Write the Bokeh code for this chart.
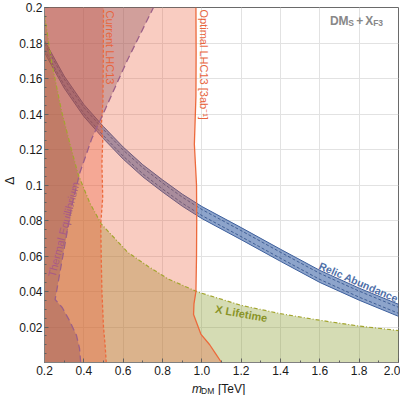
import math
from bokeh.plotting import figure
from bokeh.models import Label, FixedTicker, Range1d, ColumnDataSource
from bokeh.layouts import column, row
from bokeh.core.properties import value
from bokeh.embed import file_html
from bokeh.resources import INLINE

# ---------------- data ----------------
x_ticks = [0.2, 0.4, 0.6, 0.8, 1.0, 1.2, 1.4, 1.6, 1.8, 2.0]
x_tick_labels = ["0.2", "0.4", "0.6", "0.8", "1.0", "1.2", "1.4", "1.6", "1.8", "2.0"]
y_ticks = [0.02, 0.04, 0.06, 0.08, 0.1, 0.12, 0.14, 0.16, 0.18, 0.2]
y_tick_labels = ["0.02", "0.04", "0.06", "0.08", "0.1", "0.12", "0.14", "0.16", "0.18", "0.2"]

# relic abundance band (centre line) and half width
relic_m = [0.2, 0.3, 0.4, 0.5, 0.6, 0.7, 0.8, 0.9, 1.0, 1.2, 1.4, 1.6, 1.8, 2.0]
relic_delta = [0.178, 0.158, 0.142, 0.1295, 0.118, 0.108, 0.0995, 0.0915, 0.0845,
               0.0726, 0.0604, 0.0485, 0.0385, 0.0294]
relic_halfwidth = 0.0034

# X lifetime boundary (excluded below)
xlife_m = [0.2, 0.235, 0.286, 0.337, 0.371, 0.43, 0.489, 0.624, 0.729, 0.83, 0.98,
           1.2, 1.4, 1.6, 1.8, 2.0]
xlife_delta = [0.196, 0.170, 0.142, 0.120, 0.106, 0.090, 0.078, 0.062, 0.054, 0.047,
               0.0397, 0.0322, 0.0275, 0.0238, 0.0205, 0.018]

# current LHC13 boundary (excluded to the left)
cur_delta = [0.0, 0.01, 0.02, 0.04, 0.056, 0.078, 0.093, 0.112, 0.125, 0.135, 0.147, 0.17, 0.2]
cur_m = [0.514, 0.508, 0.500, 0.492, 0.489, 0.486, 0.496, 0.492, 0.496, 0.490, 0.497, 0.499, 0.500]

# optimal LHC13 [3ab^-1] boundary (excluded to the left)
opt_delta = [0.0, 0.005, 0.01, 0.016, 0.022, 0.027, 0.033, 0.04, 0.06, 0.08, 0.10, 0.123, 0.15, 0.175, 0.2]
opt_m = [1.10, 1.07, 1.04, 0.995, 0.975, 0.958, 0.960, 0.970, 0.973, 0.974, 0.973, 0.962, 0.970, 0.971, 0.970]

# thermal equilibrium boundary (excluded to the left)
thermal_m = [0.384, 0.378, 0.362, 0.325, 0.29, 0.254, 0.29, 0.34, 0.38, 0.44, 0.51, 0.62, 0.754]
thermal_delta = [0.0, 0.008, 0.0155, 0.024, 0.031, 0.0355, 0.058, 0.089, 0.107, 0.126, 0.143, 0.170, 0.2]

# ---------------- layout (page pixels) ----------------
STRIP_W = 16          # left strip holding the y axis label
W_TOTAL = 400
H_MAIN = 379
H_LAB = 16
FL, FR, FT, FB = 42, 398, 7, 362   # frame edges in page pixels
XMIN, XMAX, YMIN, YMAX = 0.2, 2.0, 0.0, 0.2
W_MAIN = W_TOTAL - STRIP_W


def mx(page_x):
    return XMIN + (page_x - FL) / (FR - FL) * (XMAX - XMIN)


def dy(page_y):
    return YMIN + (FB - page_y) / (FB - FT) * (YMAX - YMIN)


FONT = "Liberation Sans"

p = figure(width=W_MAIN, height=H_MAIN, x_range=Range1d(XMIN, XMAX),
           y_range=Range1d(YMIN, YMAX), output_backend="svg", toolbar_location=None,
           min_border_left=FL - STRIP_W, min_border_right=W_TOTAL - FR,
           min_border_top=FT, min_border_bottom=H_MAIN - FB)
p.background_fill_color = "white"
p.border_fill_color = "white"
p.outline_line_color = "#6a6a6a"
p.outline_line_width = 1

for ax in (p.xaxis[0], p.yaxis[0]):
    ax.axis_line_color = "#808080"
    ax.major_tick_in = 4
    ax.major_tick_out = 0
    ax.minor_tick_in = 2
    ax.minor_tick_out = 0
    ax.major_tick_line_color = "#606060"
    ax.minor_tick_line_color = "#606060"
    ax.major_label_text_font = FONT
    ax.major_label_text_font_size = "12px"
    ax.major_label_text_color = "#1a1a1a"

p.xaxis.ticker = FixedTicker(ticks=x_ticks,
                             minor_ticks=[0.3, 0.5, 0.7, 0.9, 1.1, 1.3, 1.5, 1.7, 1.9])
p.xaxis.major_label_overrides = dict(zip(x_ticks, x_tick_labels))
p.xaxis.major_label_standoff = 3
ymin_ticks = [round(0.005 * i, 3) for i in range(1, 40) if i % 4 != 0]
p.yaxis.ticker = FixedTicker(ticks=y_ticks, minor_ticks=ymin_ticks)
p.yaxis.major_label_overrides = dict(zip(y_ticks, y_tick_labels))
p.yaxis.major_label_standoff = 2

p.xgrid.ticker = FixedTicker(ticks=x_ticks)
p.ygrid.ticker = FixedTicker(ticks=y_ticks)
p.xgrid.grid_line_color = "#e2e2e2"
p.ygrid.grid_line_color = "#e2e2e2"

# relic band (drawn first, the regions are laid over it)
relic_lo = [d - relic_halfwidth for d in relic_delta]
relic_hi = [d + relic_halfwidth for d in relic_delta]
relic_in_lo = [d - 0.5 * relic_halfwidth for d in relic_delta]
relic_in_hi = [d + 0.5 * relic_halfwidth for d in relic_delta]
p.varea(x=relic_m, y1=relic_lo, y2=relic_hi, fill_color="#2f5aa0", fill_alpha=0.55)
p.line(relic_m, relic_lo, line_color="#3d5f9c", line_width=1)
p.line(relic_m, relic_hi, line_color="#3d5f9c", line_width=1)
p.line(relic_m, relic_in_lo, line_color="#2c4c88", line_width=0.8, line_dash="3 2")
p.line(relic_m, relic_in_hi, line_color="#2c4c88", line_width=0.8, line_dash="3 2")

# X lifetime region
p.patch(xlife_m + [XMAX, XMIN], xlife_delta + [YMIN, YMIN],
        fill_color="#879b29", fill_alpha=0.35, line_color=None)
# optimal LHC region
p.patch([XMIN] + opt_m + [XMIN], [YMIN] + opt_delta + [YMAX],
        fill_color="#eb5532", fill_alpha=0.3, line_color=None)
# current LHC region
p.patch([XMIN] + cur_m + [XMIN], [YMIN] + cur_delta + [YMAX],
        fill_color="#eb5532", fill_alpha=0.3, line_color=None)
# thermal equilibrium region
p.patch([XMIN] + thermal_m + [XMIN], [YMIN] + thermal_delta + [YMAX],
        fill_color="#874b55", fill_alpha=0.35, line_color=None)

# boundaries
p.line(xlife_m, xlife_delta, line_color="#a3a52e", line_width=1.2, line_dash="4 2 1 2")
p.line(opt_m, opt_delta, line_color="#ec6a3c", line_width=1.3)
p.line(cur_m, cur_delta, line_color="#ec6a3c", line_width=1.3, line_dash="3 2")
p.line(thermal_m, thermal_delta, line_color="#9c6088", line_width=1.3, line_dash="7 4")


def lab(text, px, py, size="11px", color="#000", angle=0.0, align="left",
        baseline="alphabetic", style="normal"):
    p.add_layout(Label(x=mx(px), y=dy(py), text=text, text_font=FONT,
                       text_font_size=size, text_color=color, angle=angle,
                       text_align=align, text_baseline=baseline,
                       text_font_style=style))


# region labels
lab("Current LHC13", 107.5, 10, size="11px", color="#e8643c", angle=-math.pi / 2,
    baseline="middle")
lab("Optimal LHC13 [3ab\u207b\u00b9]", 202.5, 9, size="11px", color="#e8643c",
    angle=-math.pi / 2, baseline="middle")
lab("Thermal Equilibrium", 61, 229, size="11px", color="#a95b85", angle=1.32,
    align="center", baseline="middle")
lab("X Lifetime", 240, 313, size="11px", color="#8a9428", angle=-0.18,
    align="center", baseline="middle", style="bold")
lab("Relic Abundance", 358, 281.5, size="10.5px", color="#4f6fa8", angle=-0.41,
    align="center", baseline="middle", style="bold")

# title DM_S + X_F3
lab("DM", 329, 20.3, size="12px", color="#888888", style="bold")
lab("S", 347.5, 22, size="8.5px", color="#888888", style="bold")
lab("+", 359, 20.3, size="12px", color="#888888", align="center", style="bold")
lab("X", 364.5, 20.3, size="12px", color="#888888", style="bold")
lab("F3", 372.5, 22, size="8.5px", color="#888888", style="bold")


def strip(w, h):
    f = figure(width=w, height=h, x_range=Range1d(0, w), y_range=Range1d(0, h),
               output_backend="svg", toolbar_location=None,
               min_border_left=0, min_border_right=0, min_border_top=0,
               min_border_bottom=0)
    f.axis.visible = False
    f.grid.visible = False
    f.outline_line_color = None
    f.background_fill_color = "white"
    f.border_fill_color = "white"
    return f


# ---------------- y axis label strip ----------------
s = strip(STRIP_W, H_MAIN)
s.text(x=[9.5], y=[H_MAIN - 185], text=["\u0394"], angle=math.pi / 2,
       text_font=value(FONT), text_font_size="12px", text_color="#1a1a1a",
       text_align="center", text_baseline="middle")

# ---------------- x axis label strip ----------------
q = strip(W_TOTAL, H_LAB)
xlabel_parts = ["m", "DM", "[TeV]"]
xlabel_x = [191.5, 200.5, 217.5]
xlabel_base = [388.5, 390.0, 388.5]     # page baselines
xlabel_size = ["12px", "8.5px", "12px"]
xlabel_style = ["italic", "normal", "normal"]
src = ColumnDataSource(dict(x=xlabel_x, y=[H_MAIN + H_LAB - b for b in xlabel_base],
                            t=xlabel_parts, s=xlabel_size, st=xlabel_style))
q.text(x="x", y="y", text="t", text_font_size="s", text_font_style="st",
       text_font=value(FONT), text_color="#1a1a1a", text_baseline="alphabetic",
       text_align="left", source=src)

layout = column(row(s, p, spacing=0), q, spacing=0)
open("out.html", "w").write(file_html(layout, INLINE))
